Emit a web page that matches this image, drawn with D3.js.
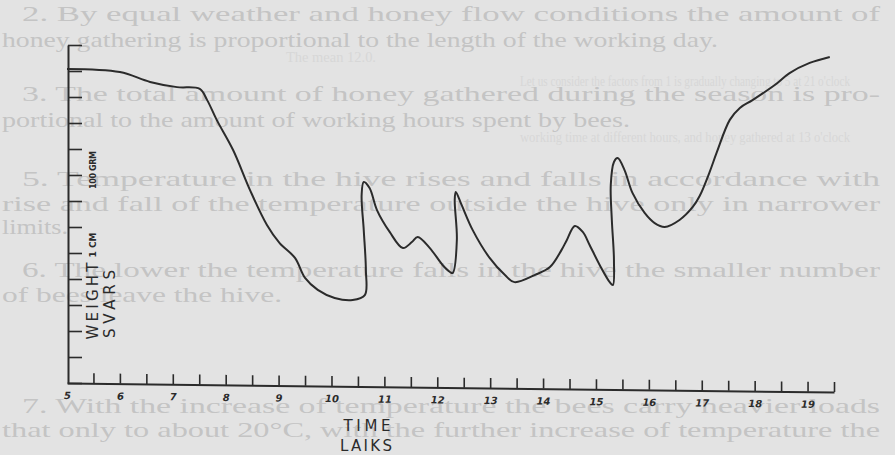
<!DOCTYPE html>
<html>
<head>
<meta charset="utf-8">
<script src="https://cdn.jsdelivr.net/npm/d3@7"></script>
<style>
  html, body { margin: 0; padding: 0; background: #e3e3e3; }
  svg { display: block; }
</style>
</head>
<body>
<svg id="chart"></svg>
<script>
// working hours of the day (x) and hive weight in cm of scale (y)
var hours  = [5.0, 6.0, 6.57, 7.08, 7.51, 7.65, 7.83, 8.14, 8.46, 8.78, 9.02, 9.31, 9.5, 9.74, 10.06, 10.4, 10.63,
              10.65, 10.61, 10.57, 10.61, 10.72, 10.86, 11.1, 11.35, 11.52, 11.63, 11.86, 12.1, 12.24, 12.29,
              12.37, 12.33, 12.35, 12.46, 12.67, 12.99, 13.28, 13.46, 13.84, 14.13, 14.35, 14.45, 14.6, 14.75,
              14.88, 15.07, 15.26, 15.32, 15.34, 15.3, 15.28, 15.34, 15.41, 15.54, 15.69, 15.92, 16.11, 16.3,
              16.58, 16.83, 16.96, 17.15, 17.28, 17.53, 17.72, 17.96, 18.38, 18.66, 19.04, 19.42];
var weight = [12.08, 11.96, 11.58, 11.38, 11.31, 10.88, 10.12, 8.96, 7.42, 6.08, 5.38, 4.81, 4.04, 3.58, 3.27, 3.19, 3.38,
              4.35, 5.88, 7.23, 7.73, 7.5, 6.65, 5.81, 5.19, 5.42, 5.62, 5.19, 4.54, 4.27, 4.23,
              5.5, 7.04, 7.35, 6.85, 5.88, 4.81, 4.15, 3.88, 4.15, 4.46, 5.12, 5.5, 6.04, 5.81,
              5.31, 4.54, 3.88, 3.77, 4.73, 6.27, 7.62, 8.5, 8.65, 8.19, 7.31, 6.54, 6.15, 6.0,
              6.27, 6.77, 7.19, 8.12, 8.85, 10.12, 10.58, 10.88, 11.46, 11.92, 12.31, 12.54];

var xTickLabels = [5, 6, 7, 8, 9, 10, 11, 12, 13, 14, 15, 16, 17, 18, 19];
var yTickValues = [0, 1, 2, 3, 4, 5, 6, 7, 8, 9, 10, 11, 12, 13];

// text of the printed page seen behind the chart
var pageLines = [
  "2.  By equal weather and honey flow conditions the amount of",
  "honey gathering is proportional to the length of the working day.",
  "3.  The total amount of honey gathered during the season is pro-",
  "portional to the amount of working hours spent by bees.",
  "5.  Temperature in the hive rises and falls in accordance with",
  "rise and fall of the temperature outside the hive only in narrower",
  "limits.",
  "6.  The lower the temperature falls in the hive the smaller number",
  "of bees leave the hive.",
  "7.  With the increase of temperature the bees carry heavier loads",
  "that only to about 20°C, with the further increase of temperature the"
];
var pageLayout = [[22, 21, 858], [2, 47, 716], [22, 101, 858], [2, 127, 628], [22, 186, 858], [2, 211, 878],
                  [2, 234, 66], [22, 277, 858], [2, 302, 280], [22, 413, 858], [2, 437, 878]];

var faintLines = ["The mean 12.0.", "Let us consider the factors from 1 is gradually changing to 5 at 21 o'clock",
                  "working time at different hours, and honey gathered at 13 o'clock"];
var faintLayout = [[286, 62, 90], [520, 86, 330], [520, 142, 330]];

var W = 895, H = 455;
var ink = "#2b2b2b";

var svg = d3.select("#chart").attr("width", W).attr("height", H);

svg.append("rect").attr("width", W).attr("height", H).attr("fill", "#e3e3e3");

svg.append("g").selectAll("text")
    .data(faintLines)
    .enter()
    .append("text")
    .attr("x", function(d, i) { return faintLayout[i][0]; })
    .attr("y", function(d, i) { return faintLayout[i][1]; })
    .attr("textLength", function(d, i) { return faintLayout[i][2]; })
    .attr("lengthAdjust", "spacingAndGlyphs")
    .attr("font-family", "Liberation Serif, serif")
    .attr("font-size", 15)
    .attr("fill", "#d7d7d7")
    .text(function(d) { return d; });

svg.append("g").selectAll("text")
    .data(pageLines)
    .enter()
    .append("text")
    .attr("x", function(d, i) { return pageLayout[i][0]; })
    .attr("y", function(d, i) { return pageLayout[i][1]; })
    .attr("textLength", function(d, i) { return pageLayout[i][2]; })
    .attr("lengthAdjust", "spacingAndGlyphs")
    .attr("font-family", "Liberation Serif, serif")
    .attr("font-size", 22)
    .attr("fill", "#c4c4c4")
    .text(function(d) { return d; });

var x = d3.scaleLinear().domain([5, 19.5]).range([67, 834]);
var y = d3.scaleLinear().domain([0, 13]).range([383, 45]);

// the drawn time axis runs slightly downhill to the right
var xa = d3.scaleLinear().domain([5, 19.5]).range([0, 767]);
var tilt = Math.atan(9 / 767) * 180 / Math.PI;

var xAxis = svg.append("g")
    .attr("transform", "translate(67," + y(0) + ") skewY(" + tilt + ")")
    .call(d3.axisBottom(xa)
        .tickValues(d3.range(5, 19.51, 0.5))
        .tickSizeInner(-10)
        .tickSizeOuter(0)
        .tickPadding(9)
        .tickFormat(function(d) { return xTickLabels.indexOf(d) >= 0 ? d : ""; }));

xAxis.select(".domain").attr("stroke", ink).attr("stroke-width", 2);
xAxis.selectAll(".tick line").attr("stroke", ink).attr("stroke-width", 1.6);
xAxis.selectAll(".tick").filter(function(d) { return d === 5; }).select("line").remove();
xAxis.selectAll(".tick text")
    .attr("fill", ink)
    .attr("font-family", "DejaVu Sans, sans-serif")
    .attr("font-style", "italic")
    .attr("font-weight", "bold")
    .attr("font-size", 10);

var yAxis = svg.append("g")
    .attr("transform", "translate(68,0)")
    .call(d3.axisRight(y)
        .tickValues(yTickValues)
        .tickSizeInner(14)
        .tickSizeOuter(0)
        .tickFormat(""));

yAxis.select(".domain").attr("stroke", ink).attr("stroke-width", 2);
yAxis.selectAll(".tick line").attr("stroke", ink).attr("stroke-width", 1.6);

// weight curve
var line = d3.line()
    .x(function(d, i) { return x(hours[i]); })
    .y(function(d, i) { return y(weight[i]); })
    .curve(d3.curveCatmullRom.alpha(0.5));

svg.append("path")
    .datum(weight)
    .attr("d", line)
    .attr("fill", "none")
    .attr("stroke", ink)
    .attr("stroke-width", 2)
    .attr("stroke-linejoin", "round");

// axis titles
var ylab = svg.append("g").attr("fill", ink).attr("font-family", "DejaVu Sans, sans-serif");

ylab.append("text")
    .attr("transform", "translate(98,301) rotate(-90)")
    .attr("text-anchor", "middle")
    .attr("font-size", 15)
    .attr("textLength", 77)
    .attr("lengthAdjust", "spacing")
    .text("WEIGHT");

ylab.append("text")
    .attr("transform", "translate(115,304) rotate(-90)")
    .attr("text-anchor", "middle")
    .attr("font-size", 15)
    .attr("textLength", 68)
    .attr("lengthAdjust", "spacing")
    .text("SVARS");

ylab.append("text")
    .attr("transform", "translate(96,245) rotate(-90)")
    .attr("text-anchor", "middle")
    .attr("font-size", 9)
    .attr("font-weight", "bold")
    .text("1 CM");

ylab.append("text")
    .attr("transform", "translate(96,170) rotate(-90)")
    .attr("text-anchor", "middle")
    .attr("font-size", 8)
    .attr("font-weight", "bold")
    .attr("textLength", 38)
    .attr("lengthAdjust", "spacing")
    .text("100 GRM");

var xlab = svg.append("g").attr("fill", ink).attr("font-family", "DejaVu Sans, sans-serif")
    .attr("font-size", 15).attr("text-anchor", "middle");

xlab.append("text").attr("x", 367).attr("y", 431)
    .attr("textLength", 47).attr("lengthAdjust", "spacing").text("TIME");
xlab.append("text").attr("x", 366).attr("y", 451)
    .attr("textLength", 52).attr("lengthAdjust", "spacing").text("LAIKS");
</script>
</body>
</html>
